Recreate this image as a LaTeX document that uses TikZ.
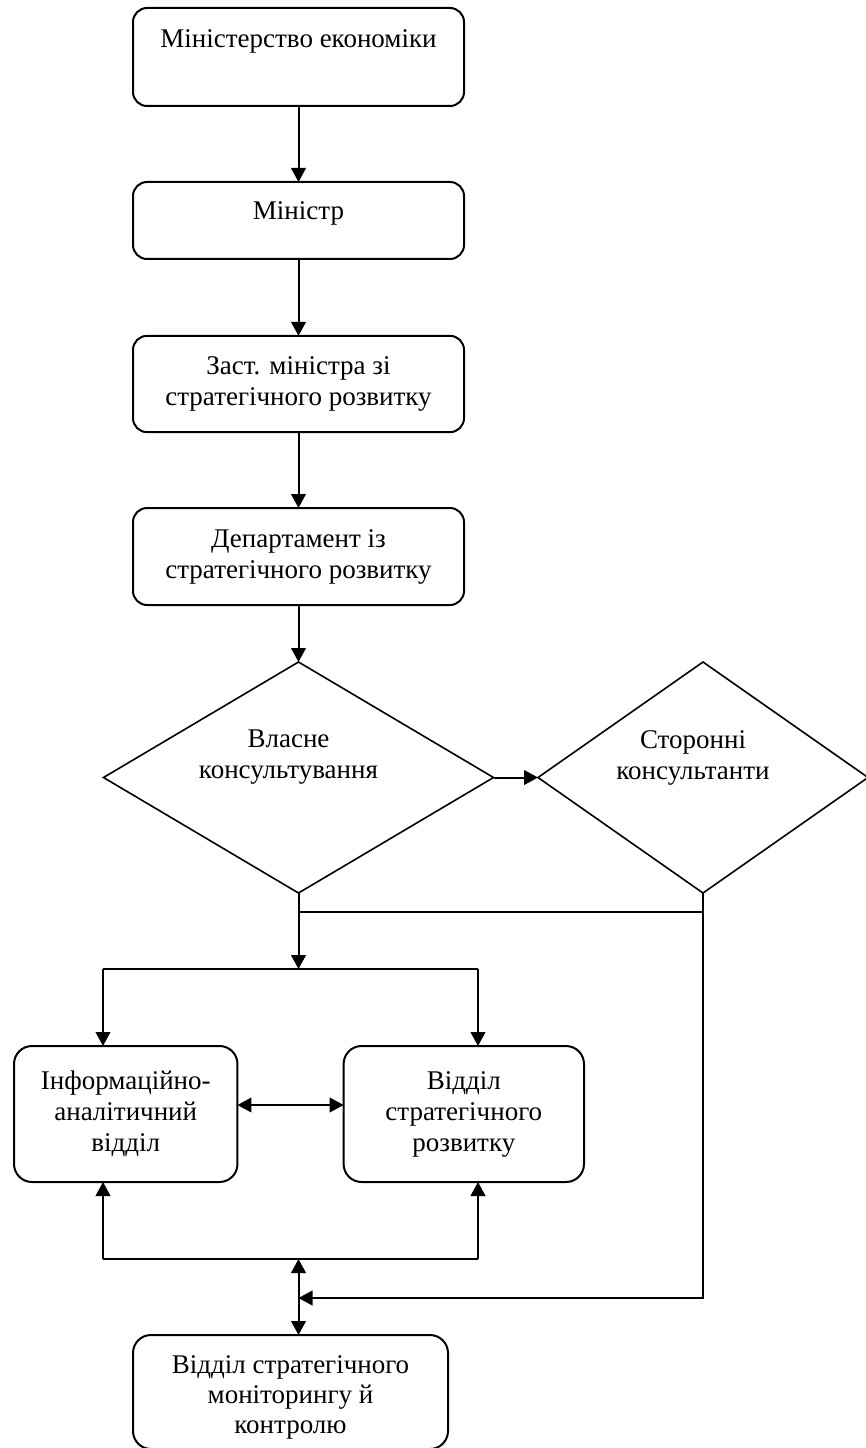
\documentclass[tikz,border=0pt]{standalone}
\usepackage{fontspec}
\setmainfont{Liberation Serif}
\usetikzlibrary{shapes.geometric,arrows.meta}

\tikzset{
  chart/.style={x=0.75pt,y=-0.75pt},
  txt/.style={font=\fontsize{20.25pt}{23.25pt}\selectfont, align=center},
  unit/.style={draw, line width=1.5pt, rounded corners=10.5pt, inner sep=0pt, outer sep=0pt, txt},
  dept/.style={unit, rounded corners=13.5pt},
  choice/.style={draw, diamond, line width=1.2pt, inner sep=0pt, outer sep=0pt, txt},
  caption/.style={txt, inner sep=0pt},
  link/.style={line width=1.5pt},
  flow/.style={link, -{Triangle[length=10.5pt,width=11pt]}},
  both/.style={link, {Triangle[length=10.5pt,width=11pt]}-{Triangle[length=10.5pt,width=11pt]}},
}

\begin{document}
\begin{tikzpicture}[chart]
\useasboundingbox (0,0) rectangle (865,1448);

% chain of command
\node[unit, minimum width=248.25pt, minimum height=73.5pt,
      label={[caption, yshift=11.4pt]center:Міністерство економіки}] (ministry) at (298.5,57) {};
\node[unit, minimum width=248.25pt, minimum height=57.75pt,
      label={[caption, yshift=5.1pt]center:Міністр}] (minister) at (298.5,220.5) {};
\node[unit, minimum width=248.25pt, minimum height=72.2pt] (deputy) at (298.5,384)
      {Заст. міністра зі\\стратегічного розвитку};
\node[unit, minimum width=248.25pt, minimum height=72.75pt] (department) at (298.5,556.5)
      {Департамент із\\стратегічного розвитку};

% consulting options
\node[choice, minimum width=292.5pt, minimum height=173.25pt,
      label={[caption, xshift=-7.5pt, yshift=15pt]center:{Власне\\консультування}}] (own) at (298.5,777.5) {};
\node[choice, minimum width=247.5pt, minimum height=173.25pt,
      label={[caption, xshift=-7.5pt, yshift=15pt]center:{Сторонні\\консультанти}}] (ext) at (703,777.5) {};

% departments
\node[dept, minimum width=167.6pt, minimum height=102pt] (infodept) at (125.75,1114)
      {Інформаційно-\\аналітичний\\відділ};
\node[dept, minimum width=180.3pt, minimum height=102pt] (stratdept) at (463.8,1114)
      {Відділ\\стратегічного\\розвитку};
\node[dept, minimum width=236.25pt, minimum height=85.5pt,
      label={[caption, font=\fontsize{20.25pt}{22.5pt}\selectfont, yshift=-4.3pt]center:{Відділ стратегічного\\моніторингу й\\контролю}}] (monitor) at (290.5,1392) {};

% junction points
\coordinate (merge) at (298.5,912);
\coordinate (split) at (298.5,969);
\coordinate (toE) at (103,969);
\coordinate (toF) at (478,969);
\coordinate (peer) at (0,1105);
\coordinate (gather) at (298.5,1259);
\coordinate (upE) at (103,1259);
\coordinate (upF) at (478,1259);
\coordinate (feedback) at (298.5,1298);

% top-down flow
\draw[flow] (ministry.south) -- (minister.north);
\draw[flow] (minister.south) -- (deputy.north);
\draw[flow] (deputy.south) -- (department.north);
\draw[flow] (department.south) -- (own.north);
\draw[flow] (own.east) -- (ext.west);

% distribution to departments
\draw[flow] (own.south) -- (split);
\draw[link] (merge) -- (merge -| ext.south);
\draw[link] (toE) -- (toF);
\draw[flow] (toE) -- (toE |- infodept.north);
\draw[flow] (toF) -- (toF |- stratdept.north);
\draw[both] (infodept.east |- peer) -- (stratdept.west |- peer);

% feedback from monitoring
\draw[link] (upE) -- (upF);
\draw[flow] (upE) -- (upE |- infodept.south);
\draw[flow] (upF) -- (upF |- stratdept.south);
\draw[both] (gather) -- (gather |- monitor.north);
\draw[flow] (ext.south) |- (feedback);
\end{tikzpicture}
\end{document}
